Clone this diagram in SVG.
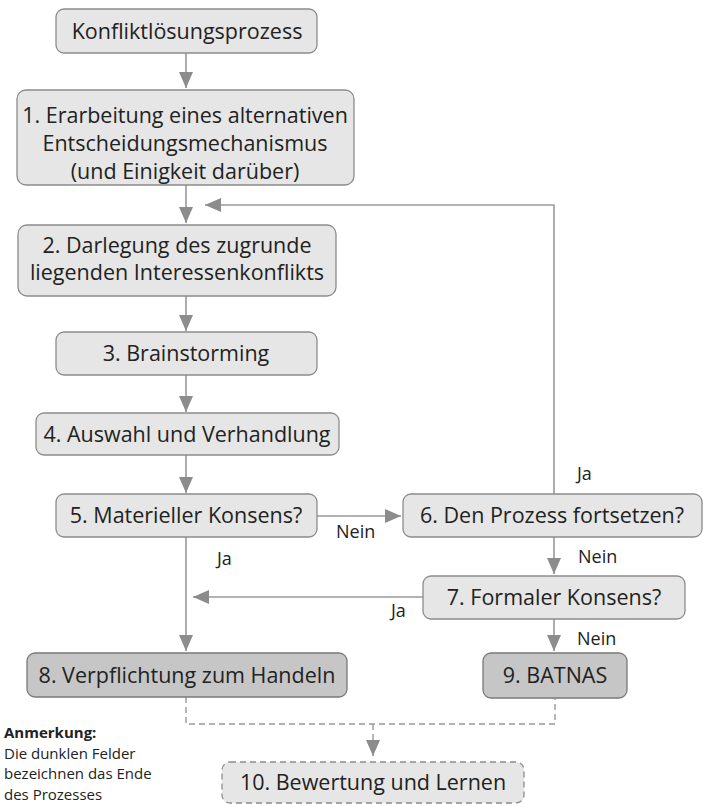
<svg xmlns="http://www.w3.org/2000/svg" width="703" height="804" viewBox="0 0 703 804">
<style>
.box{fill:#e6e6e6;stroke:#8c8c8c;stroke-width:1.3}
.dark{fill:#c6c6c6;stroke:#7a7a7a;stroke-width:1.3}
.dbox{fill:#e6e6e6;stroke:#8c8c8c;stroke-width:1.3;stroke-dasharray:6 4}
text{font-family:"Open Sans","Noto Sans",sans-serif;fill:#222}
.t{font-size:21.5px;text-anchor:middle}
.l{font-size:15px}
.n{font-size:18px}
.c{fill:none;stroke:#999;stroke-width:1.6}
.dc{fill:none;stroke:#999;stroke-width:1.4;stroke-dasharray:6 4}
</style>
<defs>
<marker id="ab" viewBox="0 0 16 14" refX="16" refY="7" markerWidth="16" markerHeight="14" markerUnits="userSpaceOnUse" orient="auto">
<path d="M0,0 L16,7 L0,14 Z" fill="#8c8c8c"/>
</marker>
</defs>
<g id="connectors">
<path class="c" d="M186,53 V88" marker-end="url(#ab)"/>
<path class="c" d="M186,185 V223" marker-end="url(#ab)"/>
<path class="c" d="M186,296 V331" marker-end="url(#ab)"/>
<path class="c" d="M186,375 V412" marker-end="url(#ab)"/>
<path class="c" d="M186,455 V493" marker-end="url(#ab)"/>
<path class="c" d="M186,537 V651" marker-end="url(#ab)"/>
<path class="c" d="M317,516 H401" marker-end="url(#ab)"/>
<path class="c" d="M554,494 V205 H205" marker-end="url(#ab)"/>
<path class="c" d="M554,537 V574" marker-end="url(#ab)"/>
<path class="c" d="M423,597 H193" marker-end="url(#ab)"/>
<path class="c" d="M554,619 V651" marker-end="url(#ab)"/>
<path class="dc" d="M186,697 V724 H555 V698"/>
<path class="dc" d="M373,724 V756" marker-end="url(#ab)"/>
<text class="n" x="336" y="538">Nein</text>
<text class="n" x="577" y="480">Ja</text>
<text class="n" x="578" y="563">Nein</text>
<text class="n" x="217" y="565">Ja</text>
<text class="n" x="391" y="617">Ja</text>
<text class="n" x="577" y="645">Nein</text>
</g>
<g id="n0"><rect class="box" x="56" y="9" width="261" height="44" rx="8"/><text class="t" x="187" y="39">Konfliktlösungsprozess</text></g>
<g id="n1"><rect class="box" x="17" y="90" width="337" height="95" rx="9"/>
<text class="t" x="185" y="123">1. Erarbeitung eines alternativen</text>
<text class="t" x="185" y="151">Entscheidungsmechanismus</text>
<text class="t" x="185" y="179">(und Einigkeit darüber)</text></g>
<g id="n2"><rect class="box" x="18" y="225" width="318" height="71" rx="9"/>
<text class="t" x="177" y="253">2. Darlegung des zugrunde</text>
<text class="t" x="177" y="280">liegenden Interessenkonflikts</text></g>
<g id="n3"><rect class="box" x="56" y="332" width="261" height="43" rx="8"/><text class="t" x="186" y="361">3. Brainstorming</text></g>
<g id="n4"><rect class="box" x="36" y="413" width="303" height="42" rx="8"/><text class="t" x="187" y="442">4. Auswahl und Verhandlung</text></g>
<g id="n5"><rect class="box" x="56" y="494" width="261" height="43" rx="8"/><text class="t" x="186" y="523">5. Materieller Konsens?</text></g>
<g id="n6"><rect class="box" x="403" y="494" width="299" height="43" rx="8"/><text class="t" x="552" y="523">6. Den Prozess fortsetzen?</text></g>
<g id="n7"><rect class="box" x="423" y="576" width="262" height="43" rx="8"/><text class="t" x="554" y="605">7. Formaler Konsens?</text></g>
<g id="n8"><rect class="dark" x="27" y="653" width="320" height="44" rx="8"/><text class="t" x="187" y="683">8. Verpflichtung zum Handeln</text></g>
<g id="n9"><rect class="dark" x="483" y="653" width="144" height="45" rx="8"/><text class="t" x="555" y="683">9. BATNAS</text></g>
<g id="n10"><rect class="dbox" x="222" y="762" width="302" height="41" rx="8"/><text class="t" x="373" y="790">10. Bewertung und Lernen</text></g>
<g id="note">
<text class="l" x="4" y="738" font-weight="bold">Anmerkung:</text>
<text class="l" x="4" y="758.5">Die dunklen Felder</text>
<text class="l" x="4" y="779">bezeichnen das Ende</text>
<text class="l" x="4" y="799.5">des Prozesses</text>
</g>
</svg>
